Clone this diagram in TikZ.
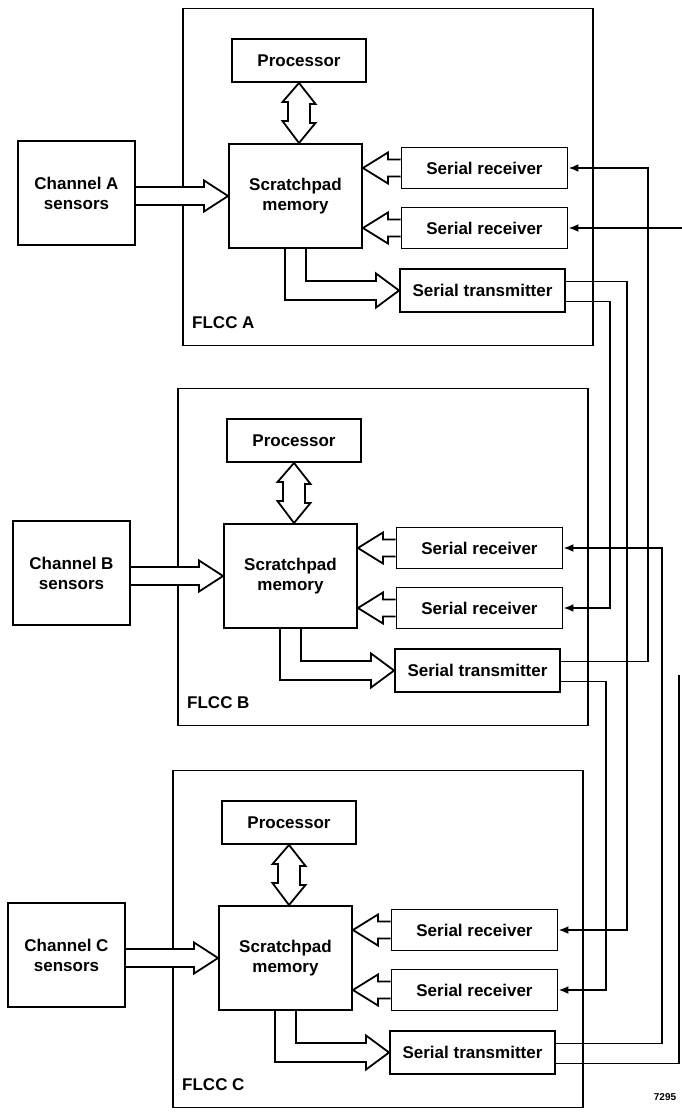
\documentclass[tikz,border=0pt]{standalone}
\usepackage{fontspec}
\setmainfont{Liberation Sans}
\usetikzlibrary{arrows.meta,calc,positioning}
\pgfdeclarelayer{myback}
\pgfdeclarelayer{background}
\pgfsetlayers{myback,background,main}
\tikzset{
  blk/.style  = { draw, line width=1.9pt, inner sep=0pt, align=center,
    font=\bfseries\fontsize{17}{20}\selectfont },
  proc/.style = { blk, minimum width=134pt, minimum height=43pt },
  pad/.style  = { blk, minimum width=133pt, minimum height=104pt },
  chan/.style = { blk, minimum width=117pt, minimum height=104pt },
  rx/.style   = { blk, minimum width=166pt, minimum height=41pt },
  tx/.style   = { blk, minimum width=165pt, minimum height=43pt },
  flcc/.style = { draw, line width=1.6pt, inner sep=0pt,
    minimum width=410pt, minimum height=337pt },
  lbl/.style  = { anchor=west, inner sep=0pt, font=\bfseries\fontsize{17}{20}\selectfont },
  fat/.style  = { draw, line width=1.8pt, fill=white, line join=miter },
  wire/.style = { line width=1.9pt },
  sig/.style  = { wire, -{Latex[length=10pt,width=8pt]} }
}

\begin{document}
\begin{tikzpicture}[x=1pt,y=1pt]
  \useasboundingbox (0,0) rectangle (681,-1115);
  % one FLCC per channel
  \foreach \b/\dx/\dy in {A/0/0,B/-5/-380,C/-10/-762}{
    \begin{scope}[shift={(\dx,\dy)}]
      \begin{pgfonlayer}{myback}
        \node[flcc] (flcc\b) at (388,-177) {};
      \end{pgfonlayer}
      \node[lbl] (name\b) at (192,-323) {FLCC \b};
      \node[proc] (proc\b) at (299,-60.5) {Processor};
      \node[pad] (pad\b) at (295.5,-196) {Scratchpad\\memory};
      \node[chan] (ch\b) at (76.5,-193) {Channel \b\\sensors};
      \node[rx] (rx\b1) at (484.5,-168) {Serial receiver};
      \node[rx] (rx\b2) at (484.5,-228) {Serial receiver};
      \node[tx] (tx\b) at (482.5,-290.5) {Serial transmitter};
    \end{scope}
  }
  % wide data paths
  \begin{pgfonlayer}{background}
  \foreach \b in {A,B,C}{
    \draw[fat] ($(ch\b.east |- pad\b.west)+(0,9)$) -- ($(pad\b.west)+(-24,9)$)
      -- ++(0,6.5) -- (pad\b.west) -- ($(pad\b.west)+(-24,-15.5)$)
      -- ++(0,6.5) -- ($(ch\b.east |- pad\b.west)+(0,-9)$);
    \foreach \r in {1,2}{
      \draw[fat] ($(rx\b\r.west)+(0,8.5)$) -- ($(pad\b.east |- rx\b\r.west)+(25,8.5)$)
        -- ++(0,7) -- (pad\b.east |- rx\b\r.west) -- ($(pad\b.east |- rx\b\r.west)+(25,-15.5)$)
        -- ++(0,7) -- ($(rx\b\r.west)+(0,-8.5)$);
    }
    \draw[fat] (proc\b.south) -- ++(16.5,-21) -- ++(-5.5,0) -- ++(0,-19) -- ++(5.5,0)
      -- (proc\b.south |- pad\b.north) -- ++(-16.5,22) -- ++(5.5,0) -- ++(0,19)
      -- ++(-5.5,0) -- cycle;
    \draw[fat] ($(pad\b.south)+(10.5,0)$) |- ($(tx\b.west)+(-23,9.5)$) -- ++(0,7.5)
      -- (tx\b.west) -- ($(tx\b.west)+(-23,-17)$) -- ++(0,7.5)
      -| ($(pad\b.south)+(-10.5,0)$);
  }
  \end{pgfonlayer}
  % serial links
  \coordinate (inA) at (683,0);
  \coordinate (cutC) at (679,-675);
  \draw[sig] ($(txA.east)+(0,9)$) -- ++(61,0) |- (rxC1.east);
  \draw[sig] ($(txA.east)+(0,-11)$) -- ++(44,0) |- (rxB2.east);
  \draw[sig] ($(txB.east)+(0,9)$) -- ++(87,0) |- (rxA1.east);
  \draw[sig] ($(txB.east)+(0,-11)$) -- ++(45,0) |- (rxC2.east);
  \draw[sig] ($(txC.east)+(0,9)$) -- ++(106,0) |- (rxB1.east);
  \draw[wire] ($(txC.east)+(0,-11)$) -| (cutC);
  \draw[sig] (rxA2.east -| inA) -- (rxA2.east);
  \node[font=\bfseries\fontsize{10}{11}\selectfont, inner sep=0pt] (fig) at (665,-1097) {7295};
\end{tikzpicture}
\end{document}
